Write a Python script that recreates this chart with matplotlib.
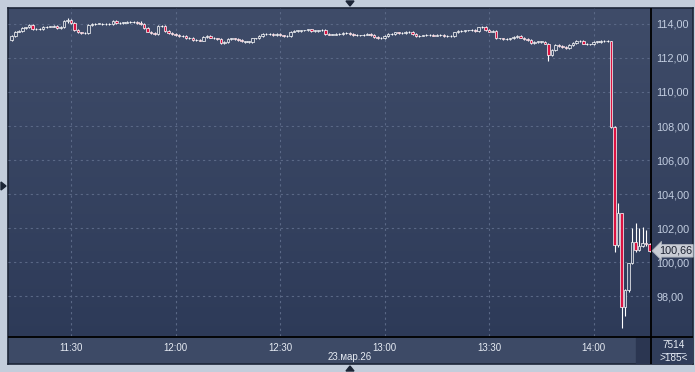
# Intraday 1-minute candles, 23 Mar 2026 (terminal-style chart)
import numpy as np
import pandas as pd
import matplotlib
matplotlib.use("Agg")
import matplotlib.pyplot as plt
import matplotlib.dates as mdates
import matplotlib.transforms as mtrans
from matplotlib.patches import Polygon, Rectangle
from matplotlib.colors import LinearSegmentedColormap

# ---- data ----
first_open = 113.06
times = pd.date_range("2026-03-23 11:13", "2026-03-23 14:16", freq="min")
closes = [
    113.30, 113.55, 113.60, 113.75, 113.80, 113.95, 113.70, 113.68, 113.70, 113.82,  # 11:13
    113.85, 113.85, 113.90, 113.75, 113.85, 114.20, 114.25, 114.05, 113.65, 113.50,  # 11:23
    113.45, 113.45, 113.95, 114.00, 114.02, 114.02, 114.00, 114.00, 114.00, 114.20,  # 11:33
    114.05, 114.07, 114.08, 114.10, 114.12, 114.10, 114.05, 114.00, 113.75, 113.55,  # 11:43
    113.45, 113.42, 113.88, 113.88, 113.60, 113.45, 113.40, 113.35, 113.30, 113.30,  # 11:53
    113.17, 113.18, 113.05, 113.05, 113.02, 113.25, 113.28, 113.20, 113.15, 113.10,  # 12:03
    112.90, 112.93, 113.10, 113.15, 113.10, 113.05, 112.97, 112.96, 112.96, 113.15,  # 12:13
    113.15, 113.30, 113.40, 113.42, 113.42, 113.35, 113.40, 113.33, 113.30, 113.30,  # 12:23
    113.55, 113.60, 113.60, 113.62, 113.62, 113.68, 113.60, 113.60, 113.62, 113.65,  # 12:33
    113.40, 113.38, 113.38, 113.40, 113.40, 113.48, 113.46, 113.40, 113.35, 113.33,  # 12:43
    113.33, 113.38, 113.40, 113.35, 113.22, 113.18, 113.17, 113.30, 113.40, 113.42,  # 12:53
    113.50, 113.45, 113.48, 113.55, 113.52, 113.40, 113.30, 113.32, 113.33, 113.35,  # 13:03
    113.35, 113.32, 113.35, 113.35, 113.30, 113.28, 113.30, 113.50, 113.58, 113.58,  # 13:13
    113.62, 113.62, 113.63, 113.60, 113.80, 113.82, 113.65, 113.55, 113.60, 113.15,  # 13:23
    113.15, 113.12, 113.12, 113.15, 113.25, 113.32, 113.20, 113.12, 113.05, 112.90,  # 13:33
    112.95, 112.95, 112.95, 112.85, 112.15, 112.45, 112.75, 112.70, 112.65, 112.60,  # 13:43
    112.75, 112.90, 112.98, 113.00, 112.85, 112.80, 112.80, 112.95, 112.95, 113.00,  # 13:53
    112.98, 112.98, 107.95, 101.00, 102.86, 97.37, 98.35, 99.92, 101.20, 100.70,     # 14:03
    100.95, 101.10, 101.05, 100.66,                                                  # 14:13
]
# candles with longer shadows: time -> (high, low)
shadows = {
    "11:13": (113.35, 113.00), "11:28": (114.25, 113.75), "11:29": (114.35, 114.05),
    "11:31": (114.10, 113.60), "11:50": (114.20, 113.95), "13:47": (112.90, 111.82),
    "14:05": (113.02, 107.90), "14:06": (108.00, 100.60), "14:07": (103.45, 100.90),
    "14:08": (102.90, 96.10), "14:09": (98.40, 96.80), "14:10": (99.95, 98.25),
    "14:11": (102.00, 99.90), "14:12": (102.28, 100.60), "14:13": (102.00, 100.65),
    "14:14": (102.08, 100.90), "14:15": (101.90, 100.95), "14:16": (101.14, 100.60),
}
last_price = 100.66
price_ticks = [98, 100, 102, 104, 106, 108, 110, 112, 114]
date_label = "23.мар.26"
volume_label = "7514"
count_label = ">185<"

opens = [first_open] + closes[:-1]
tick_pad = 0.05

W, H = 695, 372
BG_TOP, BG_BOT = "#3f4c69", "#2c3957"
RED = "#dc1342"
LABEL = "#c2cde0"
FONT = ["Liberation Sans Narrow", "Liberation Sans", "DejaVu Sans"]
plt.rcParams["font.family"] = FONT


def frame(x0, y0, x1, y1):
    # pixel box (top-left origin) -> figure fractions
    return [x0 / W, 1 - y1 / H, (x1 - x0) / W, (y1 - y0) / H]


fig = plt.figure(figsize=(W / 100, H / 100), dpi=100, facecolor="#c3cddb")

# background panel with gradient
axbg = fig.add_axes(frame(8, 8, 693, 364))
axbg.set_xlim(0, 685)
axbg.set_ylim(356, 0)
cmap = LinearSegmentedColormap.from_list("bg", [BG_TOP, BG_BOT])
axbg.imshow(np.linspace(0, 1, 256).reshape(-1, 1), cmap=cmap, aspect="auto",
            extent=[0, 685, 356, 0])
axbg.add_patch(Rectangle((0, 329), 643, 27, color="#3d4a66", zorder=2))
axbg.add_patch(Rectangle((628, 329), 15, 27, color="#2b3651", zorder=3))
axbg.add_patch(Rectangle((643, 329), 42, 27, color="#303d5a", zorder=3))
axbg.plot([643, 643], [0, 356], color="black", lw=1.3, zorder=4)
axbg.plot([0, 685], [328.5, 328.5], color="black", lw=1.3, zorder=4)
axbg.plot([654, 677], [344.5, 344.5], color=LABEL, lw=0.6, zorder=5)
axbg.text(665.5, 337.5, volume_label, color="#e6ebf3", fontsize=7.2, ha="center", va="center", zorder=5)
axbg.text(665.5, 350, count_label, color="#e6ebf3", fontsize=7.2, ha="center", va="center", zorder=5)
axbg.set_xticks([])
axbg.set_yticks([])
for s in axbg.spines.values():
    s.set_color("#1d2638")
    s.set_linewidth(1.2)

# main price axes
ax = fig.add_axes(frame(8, 8, 651, 336))
ax.set_facecolor("none")
for s in ax.spines.values():
    s.set_visible(False)

t0 = pd.Timestamp("2026-03-23 11:00")
ax.set_xlim(mdates.date2num(t0 + pd.Timedelta(minutes=11.92)),
            mdates.date2num(t0 + pd.Timedelta(minutes=196.43)))
ax.set_ylim(95.65, 114.94)

xs = mdates.date2num(times)
labels = times.strftime("%H:%M")
bw = 0.74 / 1440
for x, lab, o, c in zip(xs, labels, opens, closes):
    hi, lo = shadows.get(lab, (max(o, c) + tick_pad, min(o, c) - tick_pad))
    ax.vlines(x, lo, hi, color="white", lw=0.8, zorder=3)
    fill = RED if c < o - 0.02 else BG_TOP
    ax.bar(x, max(abs(c - o), 0.02), bottom=min(o, c), width=bw, color=fill,
           edgecolor="white", linewidth=0.5, zorder=4)

ax.yaxis.tick_right()
ax.set_yticks(price_ticks)
ax.set_yticklabels([f"{v:.2f}".replace(".", ",") for v in price_ticks])
ax.tick_params(axis="y", length=0, pad=4, labelsize=7.8, labelcolor=LABEL)
ax.xaxis.set_major_locator(mdates.MinuteLocator(byminute=[0, 30]))
ax.xaxis.set_major_formatter(mdates.DateFormatter("%H:%M"))
ax.tick_params(axis="x", length=0, pad=5, labelsize=7, labelcolor="#e6ebf3")
ax.grid(color="#5a6886", linestyle=(0, (2, 3)), lw=0.8, zorder=1)
ax.set_axisbelow(True)

# last price marker
tr = mtrans.blended_transform_factory(ax.transAxes, ax.transData)
ax.text(1.012, last_price, f"{last_price:.2f}".replace(".", ","), transform=tr,
        fontsize=7.8, color="#1b2130", va="center", ha="left", zorder=6, clip_on=False,
        bbox=dict(boxstyle="larrow,pad=0.12", fc="#c9cdd5", ec="#aab0ba", lw=0.6))

fig.text(350 / W, 1 - 357 / H, date_label, color="#e6ebf3", fontsize=7,
         ha="center", va="center")

# little frame arrows
for pts in ([(346, 1), (354, 1), (350, 6)], [(1, 182), (1, 190), (6, 186)],
            [(346, 371), (354, 371), (350, 366)]):
    fig.patches.append(Polygon([(px / W, 1 - py / H) for px, py in pts], closed=True,
                               transform=fig.transFigure, color="#1c2536"))

fig.savefig("out.png", dpi=100, facecolor=fig.get_facecolor())
